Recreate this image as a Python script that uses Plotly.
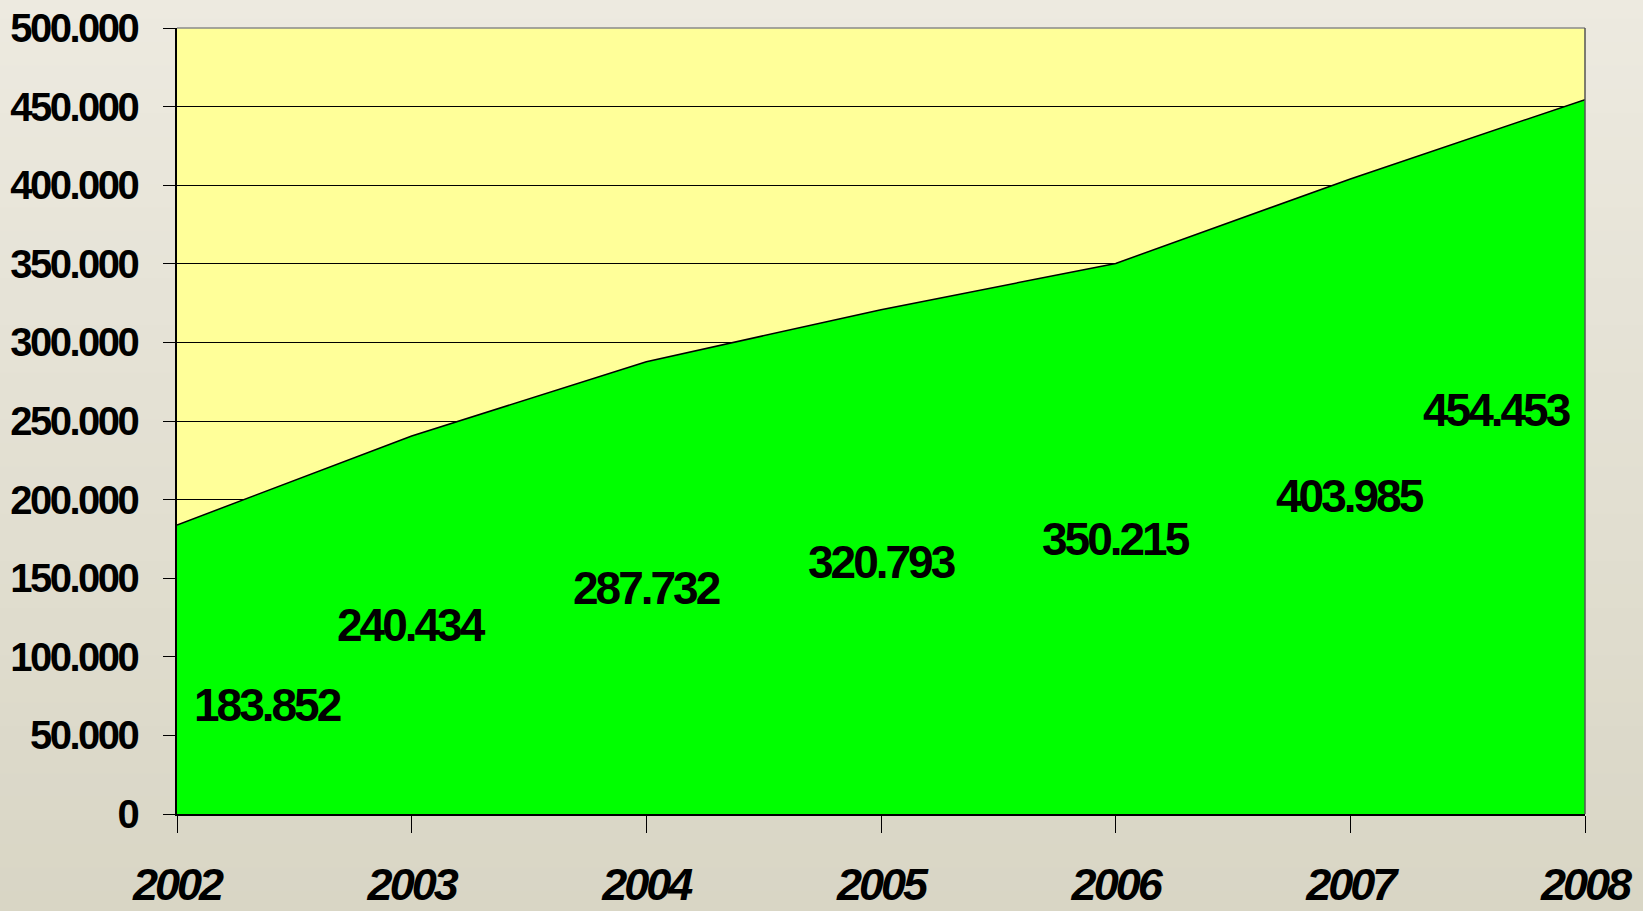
import plotly.graph_objects as go

years = [2002, 2003, 2004, 2005, 2006, 2007, 2008]
values = [183852, 240434, 287732, 320793, 350215, 403985, 454453]
labels = ["183.852", "240.434", "287.732", "320.793", "350.215", "403.985", "454.453"]
ytick_vals = [0, 50000, 100000, 150000, 200000, 250000, 300000, 350000, 400000, 450000, 500000]
ytick_text = ["0", "50.000", "100.000", "150.000", "200.000", "250.000", "300.000",
              "350.000", "400.000", "450.000", "500.000"]
xtick_text = [str(y) for y in years]

FONT = "Liberation Sans, Arial, sans-serif"


def narrow(t, ls):
    return "<span style='letter-spacing:%spx'><b>%s</b></span>" % (ls, t)


fig = go.Figure()
fig.add_trace(go.Scatter(
    x=years, y=values, mode="lines", fill="tozeroy",
    fillcolor="#00FF00", line=dict(color="black", width=1.5),
    hoverinfo="skip", showlegend=False,
))

# label offsets (style): first and last shifted inward
xshifts = [90, 0, 0, 0, 0, 0, -89]
yshifts = [-36, 0, 0, 0, 0, 0, 47]
for yr, v, t, xs, ys in zip(years, values, labels, xshifts, yshifts):
    fig.add_annotation(x=yr, y=v / 2, text=narrow(t, -3), showarrow=False,
                       xshift=xs, yshift=ys,
                       font=dict(family=FONT, size=46, color="black"))

# background: vertical gradient (decoration) from light top to darker bottom
top_rgb = (237, 234, 224)
bot_rgb = (216, 213, 196)
n_bands = 40
for i in range(n_bands):
    f = (i + 0.5) / n_bands
    c = tuple(round(top_rgb[k] + (bot_rgb[k] - top_rgb[k]) * f) for k in range(3))
    fig.add_shape(type="rect", xref="paper", yref="paper", layer="below",
                  x0=-0.2, x1=1.1, y0=1.04 - (i + 1) * 1.2 / n_bands,
                  y1=1.04 - i * 1.2 / n_bands + 0.002,
                  line=dict(width=0), fillcolor="rgb(%d,%d,%d)" % c)
# plot area background
fig.add_shape(type="rect", xref="paper", yref="paper", layer="below",
              x0=0, x1=1, y0=0, y1=1, line=dict(width=0), fillcolor="#FFFF99")

fig.update_layout(
    width=1643, height=911,
    margin=dict(l=177, r=58, t=28, b=97),
    paper_bgcolor="#e2dfd4",
    plot_bgcolor="rgba(0,0,0,0)",
    font=dict(family=FONT, color="black"),
    xaxis=dict(
        range=[2002, 2008], tickvals=years,
        ticktext=["<i>%s</i>" % narrow(t, -3) for t in xtick_text],
        tickfont=dict(family=FONT, size=45, color="black"),
        showgrid=False, zeroline=False, automargin=False,
        showline=True, linecolor="black", linewidth=2,
        ticks="outside", ticklen=17, tickcolor="black", tickwidth=1,
        ticklabelstandoff=13, mirror=False,
    ),
    yaxis=dict(
        range=[0, 500000], tickvals=ytick_vals,
        ticktext=[narrow(t, -2.5) for t in ytick_text],
        tickfont=dict(family=FONT, size=40, color="black"),
        showgrid=True, gridcolor="black", gridwidth=1,
        zeroline=False, automargin=False,
        showline=True, linecolor="black", linewidth=1.5,
        ticks="outside", ticklen=12, tickcolor="black", tickwidth=1,
        ticklabelstandoff=18,
    ),
)
# plot frame top/right in gray
fig.add_shape(type="line", xref="paper", yref="paper", x0=0, x1=1, y0=1, y1=1,
              line=dict(color="#8a8a8a", width=1.5))
fig.add_shape(type="line", xref="paper", yref="paper", x0=1, x1=1, y0=0, y1=1,
              line=dict(color="#555555", width=1.5))

fig.write_html("out.html", config={"displayModeBar": False},
               post_script="document.body.style.margin='0';document.body.style.padding='0';document.body.style.overflow='hidden';")
